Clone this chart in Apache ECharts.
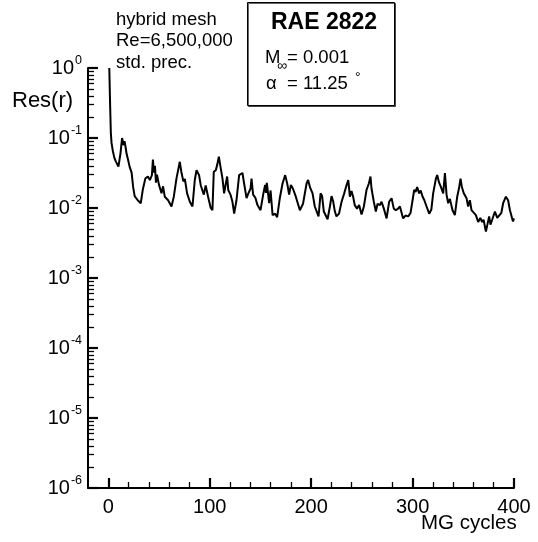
<!DOCTYPE html>
<html>
<head>
<meta charset="utf-8">
<script src="https://cdn.jsdelivr.net/npm/echarts@6/dist/echarts.min.js"></script>
<style>
html,body{margin:0;padding:0;background:#fff;}
#chart{width:538px;height:542px;}
</style>
</head>
<body>
<div id="chart"></div>
<script>
// ---- data ----
const cycles = [1,1.8,2.5,3.2,4.5,6,7.5,10,12,13.6,15,16,17,18,19.5,21,23,24.5,26,29,32,34,36.5,39,41,43,44,45,46,47,48,50,52.5,54,55.7,59,62.3,64.6,67.2,70.5,72,74,75.5,77.7,80.4,83,85.3,87,89.5,91.2,93,94.2,96,98.4,101,102.7,104,106,107.5,109,110.6,112.6,114.2,115.9,117.2,118.3,120.5,122.3,124.1,126.4,129,132.3,134,136.3,138,140.3,141.2,142.8,145,147.1,150.1,152.7,154.6,155.5,156.3,158.6,160,162,164.5,166.5,169.1,171.8,174.4,176.5,178.3,180,182,184.9,188.9,192,195.5,197,199,201.4,203.6,205.5,207.3,209.3,210.8,212.5,214.2,216.2,218.5,220.1,221.7,223.4,225,227.5,230,232.6,235,236.6,238.2,239.8,241.4,243,245.2,247.3,249.7,252,254.6,256.9,258.5,259.5,261.8,263.8,265.5,267.8,269.4,271.7,274.4,276.9,279.3,281.5,283.5,285.7,287.5,290.7,293,295.7,298,300,301.6,303,304.5,306.5,308,309.9,311.5,313.8,316.4,318.5,320.3,323,324.3,326,328.2,330.2,331.9,333.5,335.1,336.8,339.4,341.7,344,346,347.3,348.6,350.5,353.2,354.8,356.5,358.1,360,362.4,364.7,366.8,368.6,370,372.3,373.6,375.5,376.8,378.5,381.2,383.5,385.4,387.5,389.3,392,394.2,396,397.5,399,400];
const residual = [1.0,0.3,0.12,0.085,0.065,0.052,0.046,0.039,0.06,0.1,0.079,0.09,0.075,0.06,0.049,0.039,0.032,0.02,0.0148,0.0129,0.0117,0.0182,0.0263,0.0282,0.0251,0.0295,0.049,0.032,0.04,0.023,0.03,0.0214,0.0162,0.0204,0.0145,0.0129,0.0105,0.0145,0.0263,0.0457,0.033,0.024,0.026,0.0162,0.0123,0.0105,0.0251,0.0347,0.0295,0.021,0.0224,0.0155,0.021,0.0145,0.01,0.0093,0.033,0.0347,0.042,0.054,0.039,0.0263,0.0162,0.0224,0.0282,0.018,0.0155,0.0125,0.0083,0.0129,0.0295,0.0316,0.022,0.0138,0.016,0.019,0.0263,0.0155,0.014,0.011,0.0093,0.0155,0.0214,0.0165,0.0229,0.0117,0.0178,0.0079,0.0083,0.0074,0.0138,0.0224,0.0295,0.022,0.0155,0.0214,0.019,0.0145,0.0093,0.0115,0.0224,0.0251,0.0195,0.0162,0.0105,0.0105,0.0076,0.0162,0.0148,0.0089,0.0093,0.0069,0.0105,0.0148,0.0125,0.0089,0.0076,0.0083,0.0123,0.0162,0.0214,0.0251,0.0145,0.0175,0.0145,0.011,0.0098,0.011,0.0081,0.0105,0.0182,0.0224,0.0282,0.019,0.0123,0.0089,0.0115,0.011,0.0123,0.0098,0.0071,0.0123,0.0138,0.0098,0.0093,0.0098,0.0105,0.0071,0.0078,0.0076,0.0085,0.0129,0.0182,0.017,0.02,0.0162,0.0178,0.0145,0.013,0.0105,0.0083,0.0095,0.0162,0.0263,0.0295,0.0234,0.0195,0.0162,0.0316,0.0155,0.0117,0.0135,0.0093,0.0079,0.0145,0.02,0.0263,0.02,0.0162,0.0138,0.0105,0.0129,0.0093,0.0098,0.0079,0.0063,0.0072,0.0063,0.0068,0.0046,0.0044,0.0076,0.0058,0.0068,0.0089,0.0072,0.0068,0.0085,0.0117,0.0145,0.0129,0.0093,0.0089,0.0064,0.0071];

const xMajorTicks = [0,100,200,300,400];
const xMinorTicks = [20,40,60,80,120,140,160,180,220,240,260,280,320,340,360,380];
const yMajorTicks = [1e-6,1e-5,1e-4,1e-3,1e-2,1e-1,1];
const yMinorTicks = [
  2e-6,3e-6,4e-6,5e-6,6e-6,7e-6,8e-6,9e-6,
  2e-5,3e-5,4e-5,5e-5,6e-5,7e-5,8e-5,9e-5,
  2e-4,3e-4,4e-4,5e-4,6e-4,7e-4,8e-4,9e-4,
  2e-3,3e-3,4e-3,5e-3,6e-3,7e-3,8e-3,9e-3,
  2e-2,3e-2,4e-2,5e-2,6e-2,7e-2,8e-2,9e-2,
  2e-1,3e-1,4e-1,5e-1,6e-1,7e-1,8e-1,9e-1
];

const FONT = '"Liberation Sans", Arial, Helvetica, sans-serif';
const chart = echarts.init(document.getElementById('chart'), null, {renderer:'canvas'});

const xBase = {type:'value', min:-20, max:400, gridIndex:0, position:'bottom', splitLine:{show:false}};
const yBase = {type:'log', logBase:10, min:1e-6, max:1, gridIndex:0, position:'left', splitLine:{show:false}};

const option = {
  animation:false,
  backgroundColor:'#fff',
  grid:{left:88, top:68, right:24, bottom:54, containLabel:false},
  xAxis:[
    Object.assign({}, xBase, {
      axisLine:{show:true, onZero:false, lineStyle:{color:'#000', width:2}},
      axisTick:{show:true, inside:true, length:10, lineStyle:{color:'#000', width:2.2}, customValues:xMajorTicks},
      axisLabel:{show:true, customValues:xMajorTicks, margin:9, color:'#000', fontSize:20, fontFamily:FONT}
    }),
    Object.assign({}, xBase, {
      axisLine:{show:false, onZero:false},
      axisTick:{show:true, inside:true, length:6, lineStyle:{color:'#000', width:1.3}, customValues:xMinorTicks},
      axisLabel:{show:false}
    })
  ],
  yAxis:[
    Object.assign({}, yBase, {
      axisLine:{show:true, onZero:false, lineStyle:{color:'#000', width:2}},
      axisTick:{show:true, inside:true, length:10, lineStyle:{color:'#000', width:2.2}, customValues:yMajorTicks},
      axisLabel:{show:true, customValues:yMajorTicks, margin:6, color:'#000',
        formatter:function(v){ const e = Math.round(Math.log10(v)); return '{b|10}{s|' + e + '}'; },
        rich:{
          b:{fontSize:20, fontFamily:FONT, color:'#000', lineHeight:28, verticalAlign:'middle'},
          s:{fontSize:12.5, fontFamily:FONT, color:'#000', lineHeight:8, verticalAlign:'top', padding:[0,0,0,1]}
        }
      }
    }),
    Object.assign({}, yBase, {
      axisLine:{show:false, onZero:false},
      axisTick:{show:true, inside:true, length:6, lineStyle:{color:'#000', width:1.3}, customValues:yMinorTicks},
      axisLabel:{show:false}
    })
  ],
  series:[{
    type:'line',
    xAxisIndex:0, yAxisIndex:0,
    data: cycles.map((c,i)=>[c, residual[i]]),
    showSymbol:false, symbol:'none',
    smooth:false,
    clip:false,
    lineStyle:{color:'#000', width:2},
    itemStyle:{color:'#000'}
  }],
  graphic:[
    {type:'text', left:116, top:9, style:{text:'hybrid mesh\nRe=6,500,000\nstd. prec.', font:'18.5px '+FONT, fill:'#000', lineHeight:21.5}},
    {type:'text', left:12, top:90, style:{text:'Res(r)', font:'22px '+FONT, fill:'#000'}},
    {type:'text', left:421, top:513, style:{text:'MG cycles', font:'20.5px '+FONT, fill:'#000'}},
    {type:'rect', shape:{x:247.5, y:2.5, width:147, height:103}, style:{fill:'#fff', stroke:'#000', lineWidth:1, shadowColor:'rgba(0,0,0,0.6)', shadowOffsetX:1, shadowOffsetY:1, shadowBlur:0}},
    {type:'text', x:324, y:23, style:{text:'RAE 2822', font:'bold 23px '+FONT, fill:'#000', align:'center', verticalAlign:'middle'}},
    {type:'text', x:265, y:58, style:{text:'M', font:'18.5px '+FONT, fill:'#000', verticalAlign:'middle'}},
    {type:'text', x:277, y:66, style:{text:'\u221E', font:'14px '+FONT, fill:'#000', verticalAlign:'middle'}},
    {type:'text', x:287, y:58, style:{text:'= 0.001', font:'18.5px '+FONT, fill:'#000', verticalAlign:'middle'}},
    {type:'text', x:266, y:84, style:{text:'\u03B1', font:'18.5px '+FONT, fill:'#000', verticalAlign:'middle'}},
    {type:'text', x:287, y:84, style:{text:'= 11.25', font:'18.5px '+FONT, fill:'#000', verticalAlign:'middle'}},
    {type:'text', x:355, y:78, style:{text:'\u00B0', font:'14px '+FONT, fill:'#000', verticalAlign:'middle'}}
  ]
};
chart.setOption(option);
</script>
</body>
</html>
